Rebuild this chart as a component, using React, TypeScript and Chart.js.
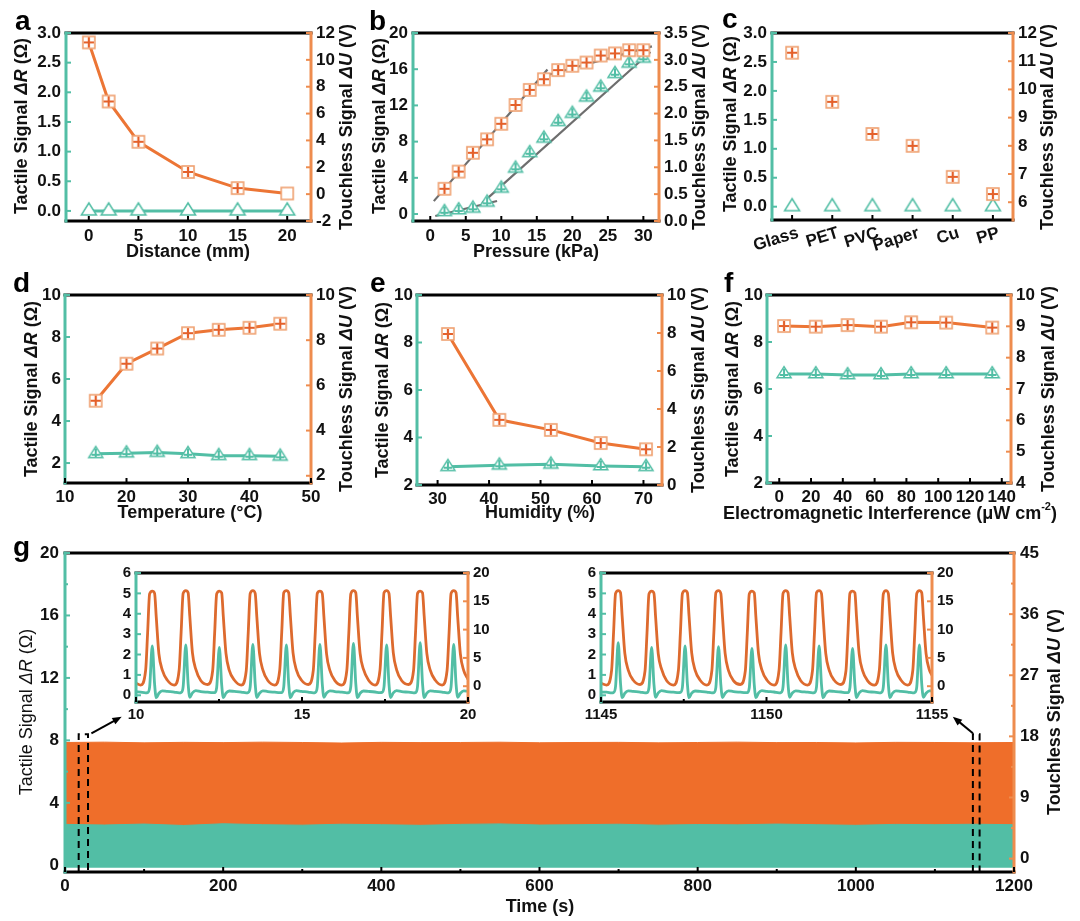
import React, { useEffect, useRef, useMemo } from 'react';
import { Chart, registerables } from 'chart.js';

Chart.register(...registerables);

const FONT = '"Liberation Sans", Arial, Helvetica, sans-serif';
Chart.defaults.font.family = FONT;

const TEAL = '#52BEA5';
const ORANGE = '#EC7535';
const ORANGE_AXIS = '#EE8C4E';
const ORANGE_BAND = '#EF6E2A';
const ORANGE_INSET = '#DD6A2E';
const FIT_GRAY = '#6E6E6E';
const INK = '#111111';

// ---------------- data ----------------
// a
const A_DISTANCE = [0, 2, 5, 10, 15, 20];
const A_TOUCHLESS = [11.3, 6.9, 3.9, 1.65, 0.45, 0.05];
const A_TACTILE = [0, 0, 0, 0, 0, 0];
const A_X_TICKS = [0, 5, 10, 15, 20];
const A_L_TICKS = [0, 0.5, 1, 1.5, 2, 2.5, 3];
const A_R_TICKS = [-2, 0, 2, 4, 6, 8, 10, 12];

// b
const B_PRESSURE = [2, 4, 6, 8, 10, 12, 14, 16, 18, 20, 22, 24, 26, 28, 30];
const B_TOUCHLESS = [0.6, 0.92, 1.27, 1.52, 1.81, 2.16, 2.44, 2.64, 2.81, 2.89, 2.95, 3.08, 3.12, 3.18, 3.18];
const B_TACTILE = [0.25, 0.44, 0.63, 1.29, 2.84, 5.05, 6.77, 8.36, 10.2, 11.1, 12.9, 14.0, 15.5, 16.65, 17.2];
const B_FIT_U_LOW_X = [0.5, 16.5];
const B_FIT_U_LOW_Y = [0.37, 2.82];
const B_FIT_U_HIGH_X = [15.5, 31.2];
const B_FIT_U_HIGH_Y = [2.68, 3.25];
const B_FIT_R_LOW_X = [0.7, 9.4];
const B_FIT_R_LOW_Y = [-0.22, 1.44];
const B_FIT_R_HIGH_X = [7.3, 31];
const B_FIT_R_HIGH_Y = [1.2, 17.9];
const B_X_TICKS = [0, 5, 10, 15, 20, 25, 30];
const B_L_TICKS = [0, 4, 8, 12, 16, 20];
const B_R_TICKS = [0, 0.5, 1, 1.5, 2, 2.5, 3, 3.5];

// c
const C_MATERIALS = ['Glass', 'PET', 'PVC', 'Paper', 'Cu', 'PP'];
const C_TOUCHLESS = [11.3, 9.56, 8.42, 8.0, 6.9, 6.29];
const C_TACTILE = [0, 0, 0, 0, 0, 0];
const C_L_TICKS = [0, 0.5, 1, 1.5, 2, 2.5, 3];
const C_R_TICKS = [6, 7, 8, 9, 10, 11, 12];

// d
const D_TEMPERATURE = [15, 20, 25, 30, 35, 40, 45];
const D_TOUCHLESS = [5.32, 6.96, 7.63, 8.31, 8.46, 8.55, 8.73];
const D_TACTILE = [2.44, 2.47, 2.5, 2.44, 2.35, 2.35, 2.32];
const D_X_TICKS = [10, 20, 30, 40, 50];
const D_L_TICKS = [2, 4, 6, 8, 10];
const D_R_TICKS = [2, 4, 6, 8, 10];

// e
const E_HUMIDITY = [32, 42, 52, 61.7, 70.5];
const E_TOUCHLESS = [7.95, 3.43, 2.9, 2.21, 1.88];
const E_TACTILE = [2.77, 2.83, 2.87, 2.8, 2.77];
const E_X_TICKS = [30, 40, 50, 60, 70];
const E_L_TICKS = [2, 4, 6, 8, 10];
const E_R_TICKS = [0, 2, 4, 6, 8, 10];

// f
const F_EMI = [3, 23, 43, 64, 83, 105, 134];
const F_TOUCHLESS = [9.01, 8.99, 9.04, 8.99, 9.13, 9.12, 8.96];
const F_TACTILE = [6.64, 6.64, 6.6, 6.6, 6.64, 6.64, 6.64];
const F_X_TICKS = [0, 20, 40, 60, 80, 100, 120, 140];
const F_L_TICKS = [2, 4, 6, 8, 10];
const F_R_TICKS = [4, 5, 6, 7, 8, 9, 10];

// g (long-term band: upper envelopes)
const G_TIME = [0, 50, 100, 150, 200, 250, 300, 350, 400, 450, 500, 550, 600, 650, 700, 750, 800, 850, 900, 950, 1000, 1050, 1100, 1150, 1200];
const G_TOUCHLESS_TOP = [17.1, 17.15, 17.05, 17.12, 17.08, 17.15, 17.1, 17.02, 17.12, 17.08, 17.1, 17.14, 17.06, 17.1, 17.12, 17.05, 17.1, 17.15, 17.08, 17.1, 17.04, 17.12, 17.1, 17.06, 17.1];
const G_TACTILE_TOP = [2.62, 2.58, 2.64, 2.55, 2.66, 2.6, 2.57, 2.63, 2.6, 2.56, 2.62, 2.65, 2.58, 2.6, 2.63, 2.57, 2.61, 2.59, 2.64, 2.6, 2.56, 2.62, 2.6, 2.63, 2.6];
const G_TOUCHLESS_FLOOR = 0.2;
const G_TACTILE_FLOOR = -0.15;
const G_X_TICKS = [0, 200, 400, 600, 800, 1000, 1200];
const G_X_MINOR = [100, 300, 500, 700, 900, 1100];
const G_L_TICKS = [0, 4, 8, 12, 16, 20];
const G_L_MINOR = [2, 6, 10, 14, 18];
const G_R_TICKS = [0, 9, 18, 27, 36, 45];
const G_R_MINOR = [4.5, 13.5, 22.5, 31.5, 40.5];
const G_ZOOM_BOXES = [[17.3, 29.1, 8.4], [1148, 1156.5, 8.4]];
const G_ARROWS = [[33.4, 8.45, 71.7, 9.52], [1148, 8.45, 1122.6, 9.52]];

// inset 1 (10-20 s)
const I1_TIME = [10.0,
  10.14, 10.29, 10.35, 10.41, 10.49, 10.56, 10.61, 10.69, 10.79, 10.94,
  11.15, 11.30, 11.36, 11.42, 11.50, 11.57, 11.62, 11.70, 11.80, 11.95,
  12.16, 12.31, 12.37, 12.43, 12.51, 12.58, 12.63, 12.71, 12.81, 12.96,
  13.17, 13.32, 13.38, 13.44, 13.52, 13.59, 13.64, 13.72, 13.82, 13.97,
  14.18, 14.33, 14.39, 14.45, 14.53, 14.60, 14.65, 14.73, 14.83, 14.98,
  15.19, 15.34, 15.40, 15.46, 15.54, 15.61, 15.66, 15.74, 15.84, 15.99,
  16.20, 16.35, 16.41, 16.47, 16.55, 16.62, 16.67, 16.75, 16.85, 17.00,
  17.20, 17.35, 17.41, 17.47, 17.55, 17.62, 17.67, 17.75, 17.85, 18.00,
  18.21, 18.36, 18.42, 18.48, 18.56, 18.63, 18.68, 18.76, 18.86, 19.01,
  19.22, 19.37, 19.43, 19.49, 19.57, 19.64, 19.69, 19.77, 19.87, 20.0];
const I1_TOUCHLESS = [0.5,
  0.2, 2.8, 9.4, 16.3, 16.8, 16.4, 12.2, 5.7, 2.9, 1.1,
  0.2, 2.9, 9.6, 16.4, 16.9, 16.5, 12.4, 5.9, 3.0, 1.0,
  0.3, 2.8, 9.5, 16.3, 16.8, 16.5, 12.3, 5.8, 2.8, 1.1,
  0.2, 2.7, 9.4, 16.4, 16.9, 16.4, 12.2, 5.8, 2.9, 1.0,
  0.2, 2.9, 9.6, 16.5, 16.9, 16.5, 12.4, 5.9, 2.9, 1.1,
  0.3, 2.8, 9.5, 16.4, 16.8, 16.4, 12.3, 5.7, 2.8, 1.0,
  0.2, 2.8, 9.4, 16.3, 16.9, 16.5, 12.2, 5.8, 3.0, 1.1,
  0.2, 2.9, 9.6, 16.5, 16.9, 16.4, 12.3, 5.9, 2.9, 1.0,
  0.3, 2.8, 9.5, 16.4, 16.8, 16.5, 12.4, 5.8, 2.9, 1.1,
  0.2, 2.8, 9.4, 16.4, 16.9, 16.5, 12.2, 5.7, 2.8, 1.2];
const I1_TACTILE = [0.18,
  0.15, 0.12, 0.13, 0.40, 2.42, 0.55, -0.12, 0.10, 0.22, 0.19,
  0.16, 0.12, 0.14, 0.42, 2.47, 0.56, -0.10, 0.12, 0.23, 0.18,
  0.15, 0.13, 0.13, 0.38, 2.35, 0.53, -0.12, 0.11, 0.21, 0.19,
  0.16, 0.12, 0.14, 0.42, 2.50, 0.56, -0.11, 0.10, 0.22, 0.18,
  0.15, 0.13, 0.13, 0.41, 2.47, 0.55, -0.12, 0.12, 0.23, 0.19,
  0.16, 0.12, 0.14, 0.42, 2.50, 0.57, -0.10, 0.11, 0.22, 0.18,
  0.15, 0.12, 0.13, 0.43, 2.55, 0.57, -0.12, 0.10, 0.21, 0.19,
  0.16, 0.13, 0.14, 0.41, 2.47, 0.55, -0.11, 0.12, 0.23, 0.18,
  0.15, 0.12, 0.13, 0.44, 2.58, 0.58, -0.12, 0.11, 0.22, 0.19,
  0.16, 0.12, 0.14, 0.42, 2.50, 0.56, -0.10, 0.10, 0.22, 0.20];

// inset 2 (1145-1155 s)
const I2_TIME = [1145.0,
  1145.17, 1145.32, 1145.38, 1145.44, 1145.52, 1145.59, 1145.64, 1145.72, 1145.82, 1145.97,
  1146.18, 1146.33, 1146.39, 1146.45, 1146.53, 1146.60, 1146.65, 1146.73, 1146.83, 1146.98,
  1147.19, 1147.34, 1147.40, 1147.46, 1147.54, 1147.61, 1147.66, 1147.74, 1147.84, 1147.99,
  1148.20, 1148.35, 1148.41, 1148.47, 1148.55, 1148.62, 1148.67, 1148.75, 1148.85, 1149.00,
  1149.21, 1149.36, 1149.42, 1149.48, 1149.56, 1149.63, 1149.68, 1149.76, 1149.86, 1150.01,
  1150.23, 1150.38, 1150.44, 1150.50, 1150.58, 1150.65, 1150.70, 1150.78, 1150.88, 1151.03,
  1151.24, 1151.39, 1151.45, 1151.51, 1151.59, 1151.66, 1151.71, 1151.79, 1151.89, 1152.04,
  1152.25, 1152.40, 1152.46, 1152.52, 1152.60, 1152.67, 1152.72, 1152.80, 1152.90, 1153.05,
  1153.26, 1153.41, 1153.47, 1153.53, 1153.61, 1153.68, 1153.73, 1153.81, 1153.91, 1154.06,
  1154.27, 1154.42, 1154.48, 1154.54, 1154.62, 1154.69, 1154.74, 1154.82, 1154.92, 1155.0];
const I2_TOUCHLESS = [0.5,
  0.2, 2.8, 9.5, 16.4, 16.9, 16.5, 12.3, 5.8, 2.9, 1.1,
  0.3, 2.7, 9.4, 16.3, 16.8, 16.4, 12.2, 5.7, 3.0, 1.0,
  0.2, 2.9, 9.6, 16.4, 16.9, 16.5, 12.4, 5.9, 2.9, 1.1,
  0.2, 2.8, 9.5, 16.5, 16.9, 16.4, 12.3, 5.8, 2.8, 1.0,
  0.3, 2.7, 9.4, 16.3, 16.8, 16.5, 12.2, 5.7, 2.9, 1.1,
  0.2, 2.9, 9.6, 16.4, 16.9, 16.5, 12.4, 5.9, 3.0, 1.0,
  0.2, 2.8, 9.5, 16.5, 16.9, 16.4, 12.3, 5.8, 2.9, 1.1,
  0.3, 2.7, 9.4, 16.4, 16.8, 16.5, 12.2, 5.7, 2.8, 1.0,
  0.2, 2.9, 9.6, 16.3, 16.9, 16.4, 12.4, 5.9, 2.9, 1.1,
  0.2, 2.8, 9.5, 16.4, 16.9, 16.5, 12.3, 5.8, 2.9, 1.9];
const I2_TACTILE = [0.15,
  0.15, 0.12, 0.14, 0.44, 2.58, 0.58, -0.12, 0.10, 0.22, 0.19,
  0.16, 0.12, 0.13, 0.38, 2.35, 0.53, -0.10, 0.12, 0.23, 0.18,
  0.15, 0.13, 0.14, 0.40, 2.42, 0.55, -0.12, 0.11, 0.21, 0.19,
  0.16, 0.12, 0.13, 0.39, 2.38, 0.54, -0.11, 0.10, 0.22, 0.18,
  0.15, 0.13, 0.13, 0.37, 2.30, 0.52, -0.12, 0.12, 0.23, 0.19,
  0.16, 0.12, 0.14, 0.42, 2.47, 0.56, -0.10, 0.11, 0.22, 0.18,
  0.15, 0.12, 0.13, 0.40, 2.42, 0.55, -0.12, 0.10, 0.21, 0.19,
  0.16, 0.13, 0.13, 0.37, 2.30, 0.52, -0.11, 0.12, 0.23, 0.18,
  0.15, 0.12, 0.14, 0.42, 2.47, 0.56, -0.12, 0.11, 0.22, 0.19,
  0.16, 0.12, 0.14, 0.42, 2.47, 0.56, -0.10, 0.10, 0.22, 0.22];
const INSET_L_TICKS = [0, 1, 2, 3, 4, 5, 6];
const INSET_R_TICKS = [0, 5, 10, 15, 20];
const I1_X_TICKS = [10, 15, 20];
const I1_X_MINOR = [12.5, 17.5];
const I2_X_TICKS = [1145, 1150, 1155];
const I2_X_MINOR = [1147.5, 1152.5];

// ---------------- helpers ----------------
type Seg = { t: string; i?: boolean; sup?: boolean };
type Title = { segs: Seg[]; x: number; y: number; weight?: string };
type Deco = {
  letter?: { t: string; x: number; y: number };
  left?: Title;
  right?: Title;
  bottom?: Title;
  titleSize?: number;
  minorX?: number[];
  minorL?: number[];
  minorR?: number[];
  extra?: (c: any) => void;
};
type PanelSpec = {
  box: [number, number, number, number];
  plot: [number, number, number, number];
  xAxis: any;
  yl: any;
  yr: any;
  datasets: any[];
  deco: Deco;
};

const TACTILE_SEGS: Seg[] = [{ t: 'Tactile Signal ' }, { t: 'ΔR', i: true }, { t: ' (Ω)' }];
const TOUCHLESS_SEGS: Seg[] = [{ t: 'Touchless Signal ' }, { t: 'ΔU', i: true }, { t: ' (V)' }];

const f0 = (v: number) => String(Math.round(v));
const f1 = (v: number) => v.toFixed(1);

function line(ctx: CanvasRenderingContext2D, color: string, x1: number, y1: number, x2: number, y2: number) {
  ctx.strokeStyle = color;
  ctx.beginPath();
  ctx.moveTo(x1, y1);
  ctx.lineTo(x2, y2);
  ctx.stroke();
}

function drawRich(ctx: CanvasRenderingContext2D, segs: Seg[], cx: number, cy: number, rot: number, size: number, weight: string) {
  const font = (s: Seg) => `${s.i ? 'italic ' : ''}${weight} ${s.sup ? Math.round(size * 0.62) : size}px ${FONT}`;
  let total = 0;
  const widths = segs.map((s) => {
    ctx.font = font(s);
    const w = ctx.measureText(s.t).width;
    total += w;
    return w;
  });
  ctx.save();
  ctx.translate(cx, cy);
  ctx.rotate(rot);
  ctx.textBaseline = 'middle';
  ctx.textAlign = 'left';
  ctx.fillStyle = INK;
  let x = -total / 2;
  segs.forEach((s, k) => {
    ctx.font = font(s);
    ctx.fillText(s.t, x, s.sup ? -size * 0.38 : 0);
    x += widths[k];
  });
  ctx.restore();
}

function arrow(ctx: CanvasRenderingContext2D, x1: number, y1: number, x2: number, y2: number) {
  const a = Math.atan2(y2 - y1, x2 - x1);
  const hl = 10;
  ctx.lineWidth = 2;
  line(ctx, '#000', x1, y1, x2 - Math.cos(a) * hl * 0.7, y2 - Math.sin(a) * hl * 0.7);
  ctx.fillStyle = '#000';
  ctx.beginPath();
  ctx.moveTo(x2, y2);
  ctx.lineTo(x2 - hl * Math.cos(a - 0.38), y2 - hl * Math.sin(a - 0.38));
  ctx.lineTo(x2 - hl * Math.cos(a + 0.38), y2 - hl * Math.sin(a + 0.38));
  ctx.closePath();
  ctx.fill();
}

function squareMarker(cross: boolean) {
  const c = document.createElement('canvas');
  c.width = 16;
  c.height = 16;
  const g = c.getContext('2d')!;
  g.fillStyle = '#fff';
  g.fillRect(2, 2, 12, 12);
  g.strokeStyle = '#EFA070';
  g.lineWidth = 1.6;
  g.strokeRect(2, 2, 12, 12);
  if (cross) {
    g.strokeStyle = '#E4602A';
    g.lineWidth = 2.2;
    g.beginPath();
    g.moveTo(8, 3);
    g.lineTo(8, 13);
    g.moveTo(3, 8);
    g.lineTo(13, 8);
    g.stroke();
  }
  return c;
}

function triMarker(cross: boolean, hw: number, h: number) {
  const c = document.createElement('canvas');
  c.width = 22;
  c.height = 22;
  const g = c.getContext('2d')!;
  const cx = 11, cy = 11;
  const apex = cy - (2 * h) / 3, base = cy + h / 3;
  g.beginPath();
  g.moveTo(cx, apex);
  g.lineTo(cx + hw, base);
  g.lineTo(cx - hw, base);
  g.closePath();
  g.fillStyle = '#fff';
  g.fill();
  g.strokeStyle = TEAL;
  g.lineWidth = 1.5;
  g.stroke();
  if (cross) {
    g.lineWidth = 2;
    g.beginPath();
    g.moveTo(cx, apex + 2);
    g.lineTo(cx, base);
    g.moveTo(cx - hw * 0.6, cy + 1);
    g.lineTo(cx + hw * 0.6, cy + 1);
    g.stroke();
  }
  return c;
}

function lin(min: number, max: number, ticks: number[], fmt: (v: number) => string, size: number, pad: number) {
  return {
    type: 'linear',
    min,
    max,
    grid: { display: false, drawTicks: false },
    border: { display: false },
    ticks: {
      padding: pad,
      color: INK,
      autoSkip: false,
      maxRotation: 0,
      minRotation: 0,
      font: { family: FONT, size, weight: 'bold' },
      callback: (v: any) => fmt(Number(v)),
    },
    afterBuildTicks: (s: any) => {
      s.ticks = ticks.map((v) => ({ value: v }));
    },
  };
}

function pts(xs: any[], ys: number[], axis: string, color: string, style: any, showLine: boolean, order = 0) {
  return {
    type: 'line',
    data: xs.map((x, i) => ({ x, y: ys[i] })),
    yAxisID: axis,
    borderColor: color,
    backgroundColor: color,
    borderWidth: 3,
    showLine,
    pointStyle: style,
    pointRadius: 7,
    order,
  };
}

function fitLine(xs: number[], ys: number[], axis: string) {
  return {
    type: 'line',
    data: xs.map((x, i) => ({ x, y: ys[i] })),
    yAxisID: axis,
    borderColor: FIT_GRAY,
    borderWidth: 2.2,
    pointRadius: 0,
    order: 5,
  };
}

function trace(xs: number[], ys: number[], axis: string, color: string, width: number, order: number) {
  return {
    type: 'line',
    data: xs.map((x, i) => ({ x, y: ys[i] })),
    yAxisID: axis,
    borderColor: color,
    borderWidth: width,
    pointRadius: 0,
    cubicInterpolationMode: 'monotone',
    order,
  };
}

function band(xs: number[], ys: number[], axis: string, color: string, floor: number, order: number) {
  return {
    type: 'line',
    data: xs.map((x, i) => ({ x, y: ys[i] })),
    yAxisID: axis,
    borderColor: color,
    backgroundColor: color,
    borderWidth: 1,
    pointRadius: 0,
    fill: { value: floor },
    order,
  };
}

function decoPlugin(spec: PanelSpec) {
  const ox = spec.box[0];
  const oy = spec.box[1];
  const d = spec.deco;
  return {
    id: 'deco',
    afterDraw(chart: any) {
      const ctx: CanvasRenderingContext2D = chart.ctx;
      const { left, right, top, bottom } = chart.chartArea;
      ctx.save();
      ctx.lineCap = 'butt';
      ctx.lineWidth = 3;
      line(ctx, '#000', left - 1.5, top, right + 1.5, top);
      line(ctx, '#000', left - 1.5, bottom, right + 1.5, bottom);
      line(ctx, TEAL, left, top - 1.5, left, bottom + 1.5);
      line(ctx, ORANGE_AXIS, right, top - 1.5, right, bottom + 1.5);
      const xs = chart.scales.x, yl = chart.scales.y, yr = chart.scales.y1;
      ctx.lineWidth = 2;
      const L = 5, Lm = 3;
      xs.ticks.forEach((_: any, i: number) => {
        const p = xs.getPixelForTick(i);
        line(ctx, '#000', p, bottom, p, bottom - L);
      });
      yl.ticks.forEach((_: any, i: number) => {
        const p = yl.getPixelForTick(i);
        line(ctx, TEAL, left, p, left + L, p);
      });
      yr.ticks.forEach((_: any, i: number) => {
        const p = yr.getPixelForTick(i);
        line(ctx, ORANGE_AXIS, right, p, right - L, p);
      });
      (d.minorX || []).forEach((v) => {
        const p = xs.getPixelForValue(v);
        line(ctx, '#000', p, bottom, p, bottom - Lm);
      });
      (d.minorL || []).forEach((v) => {
        const p = yl.getPixelForValue(v);
        line(ctx, TEAL, left, p, left + Lm, p);
      });
      (d.minorR || []).forEach((v) => {
        const p = yr.getPixelForValue(v);
        line(ctx, ORANGE_AXIS, right, p, right - Lm, p);
      });
      const ts = d.titleSize || 18;
      if (d.left) drawRich(ctx, d.left.segs, d.left.x - ox, d.left.y - oy, -Math.PI / 2, ts, d.left.weight || 'bold');
      if (d.right) drawRich(ctx, d.right.segs, d.right.x - ox, d.right.y - oy, -Math.PI / 2, ts, d.right.weight || 'bold');
      if (d.bottom) drawRich(ctx, d.bottom.segs, d.bottom.x - ox, d.bottom.y - oy, 0, ts, d.bottom.weight || 'bold');
      if (d.letter) {
        ctx.font = `bold 28px ${FONT}`;
        ctx.fillStyle = '#000';
        ctx.textAlign = 'left';
        ctx.textBaseline = 'alphabetic';
        ctx.fillText(d.letter.t, d.letter.x - ox, d.letter.y - oy);
      }
      if (d.extra) d.extra(chart);
      ctx.restore();
    },
  };
}

function makeConfig(p: PanelSpec): any {
  const [bx, by, bw, bh] = p.box;
  const [pl, pt, pr, pb] = p.plot;
  const x = {
    ...p.xAxis,
    position: 'bottom',
    afterFit: (s: any) => {
      s.height = by + bh - pb;
      s.paddingLeft = 0;
      s.paddingRight = 0;
    },
  };
  const y = {
    ...p.yl,
    position: 'left',
    afterFit: (s: any) => {
      s.width = pl - bx;
      s.paddingTop = 0;
      s.paddingBottom = 0;
    },
  };
  const y1 = {
    ...p.yr,
    position: 'right',
    afterFit: (s: any) => {
      s.width = bx + bw - pr;
      s.paddingTop = 0;
      s.paddingBottom = 0;
    },
  };
  return {
    type: 'line',
    data: { datasets: p.datasets },
    options: {
      animation: false,
      responsive: false,
      devicePixelRatio: 1,
      events: [],
      layout: { padding: { top: pt - by, left: 0, right: 0, bottom: 0 } },
      plugins: { legend: { display: false }, tooltip: { enabled: false } },
      scales: { x, y, y1 },
    },
    plugins: [decoPlugin(p)],
  };
}

function buildSpecs(): PanelSpec[] {
  const sqCross = squareMarker(true);
  const sqOpen = squareMarker(false);
  const triOpen = triMarker(false, 7.5, 12);
  const triCross = triMarker(true, 7, 11);

  const a: PanelSpec = {
    box: [0, 0, 360, 265],
    plot: [66, 33, 311, 221],
    xAxis: lin(-2.3, 22.4, A_X_TICKS, f0, 17, 5),
    yl: lin(-0.17, 3.0, A_L_TICKS, f1, 17, 5),
    yr: lin(-2, 12, A_R_TICKS, f0, 17, 5),
    datasets: [
      pts(A_DISTANCE, A_TOUCHLESS, 'y1', ORANGE, A_TOUCHLESS.map((_, i) => (i === A_TOUCHLESS.length - 1 ? sqOpen : sqCross)), true),
      pts(A_DISTANCE, A_TACTILE, 'y', TEAL, triOpen, true),
    ],
    deco: {
      letter: { t: 'a', x: 15, y: 30 },
      left: { segs: TACTILE_SEGS, x: 22, y: 126 },
      right: { segs: TOUCHLESS_SEGS, x: 347, y: 127 },
      bottom: { segs: [{ t: 'Distance (mm)' }], x: 188, y: 252 },
    },
  };

  const b: PanelSpec = {
    box: [360, 0, 360, 265],
    plot: [413, 33, 659, 221],
    xAxis: lin(-2.43, 32.2, B_X_TICKS, f0, 17, 5),
    yl: lin(-0.77, 20, B_L_TICKS, f0, 17, 5),
    yr: lin(0, 3.5, B_R_TICKS, f1, 17, 5),
    datasets: [
      pts(B_PRESSURE, B_TOUCHLESS, 'y1', ORANGE, sqCross, false),
      pts(B_PRESSURE, B_TACTILE, 'y', TEAL, triCross, false),
      fitLine(B_FIT_U_LOW_X, B_FIT_U_LOW_Y, 'y1'),
      fitLine(B_FIT_U_HIGH_X, B_FIT_U_HIGH_Y, 'y1'),
      fitLine(B_FIT_R_LOW_X, B_FIT_R_LOW_Y, 'y'),
      fitLine(B_FIT_R_HIGH_X, B_FIT_R_HIGH_Y, 'y'),
    ],
    deco: {
      letter: { t: 'b', x: 369, y: 30 },
      left: { segs: TACTILE_SEGS, x: 380, y: 126 },
      right: { segs: TOUCHLESS_SEGS, x: 700, y: 127 },
      bottom: { segs: [{ t: 'Pressure (kPa)' }], x: 536, y: 252 },
    },
  };

  const c: PanelSpec = {
    box: [720, 0, 360, 265],
    plot: [772, 33, 1013, 220],
    xAxis: {
      type: 'category',
      labels: C_MATERIALS,
      offset: true,
      grid: { display: false, drawTicks: false },
      border: { display: false },
      ticks: {
        padding: 3,
        labelOffset: 6,
        color: INK,
        autoSkip: false,
        minRotation: 17,
        maxRotation: 17,
        font: { family: FONT, size: 17, weight: 'bold' },
      },
    },
    yl: lin(-0.23, 3.0, C_L_TICKS, f1, 17, 5),
    yr: lin(5.37, 12, C_R_TICKS, f0, 17, 5),
    datasets: [
      pts(C_MATERIALS, C_TOUCHLESS, 'y1', ORANGE, sqCross, false),
      pts(C_MATERIALS, C_TACTILE, 'y', TEAL, triOpen, false),
    ],
    deco: {
      letter: { t: 'c', x: 722, y: 28 },
      left: { segs: TACTILE_SEGS, x: 731, y: 124 },
      right: { segs: TOUCHLESS_SEGS, x: 1048, y: 127 },
    },
  };

  const dP: PanelSpec = {
    box: [0, 265, 360, 265],
    plot: [65, 295, 311, 483],
    xAxis: lin(10, 50, D_X_TICKS, f0, 17, 4),
    yl: lin(1.05, 10, D_L_TICKS, f0, 17, 4),
    yr: lin(1.68, 10, D_R_TICKS, f0, 17, 5),
    datasets: [
      pts(D_TEMPERATURE, D_TOUCHLESS, 'y1', ORANGE, sqCross, true),
      pts(D_TEMPERATURE, D_TACTILE, 'y', TEAL, triCross, true),
    ],
    deco: {
      letter: { t: 'd', x: 13, y: 292 },
      left: { segs: TACTILE_SEGS, x: 32, y: 389 },
      right: { segs: TOUCHLESS_SEGS, x: 347, y: 389 },
      bottom: { segs: [{ t: 'Temperature (°C)' }], x: 190, y: 513 },
    },
  };

  const e: PanelSpec = {
    box: [360, 265, 360, 265],
    plot: [417, 295, 662, 485],
    xAxis: lin(26, 73.6, E_X_TICKS, f0, 17, 4),
    yl: lin(2, 10, E_L_TICKS, f0, 17, 4),
    yr: lin(0, 10, E_R_TICKS, f0, 17, 5),
    datasets: [
      pts(E_HUMIDITY, E_TOUCHLESS, 'y1', ORANGE, sqCross, true),
      pts(E_HUMIDITY, E_TACTILE, 'y', TEAL, triCross, true),
    ],
    deco: {
      letter: { t: 'e', x: 370, y: 292 },
      left: { segs: TACTILE_SEGS, x: 383, y: 390 },
      right: { segs: TOUCHLESS_SEGS, x: 699, y: 390 },
      bottom: { segs: [{ t: 'Humidity (%)' }], x: 540, y: 513 },
    },
  };

  const f: PanelSpec = {
    box: [720, 265, 360, 265],
    plot: [767, 295, 1011, 483],
    xAxis: lin(-7.7, 145.8, F_X_TICKS, f0, 17, 4),
    yl: lin(2, 10, F_L_TICKS, f0, 17, 4),
    yr: lin(4, 10, F_R_TICKS, f0, 17, 5),
    datasets: [
      pts(F_EMI, F_TOUCHLESS, 'y1', ORANGE, sqCross, true),
      pts(F_EMI, F_TACTILE, 'y', TEAL, triCross, true),
    ],
    deco: {
      letter: { t: 'f', x: 724, y: 292 },
      left: { segs: TACTILE_SEGS, x: 733, y: 389 },
      right: { segs: TOUCHLESS_SEGS, x: 1049, y: 389 },
      bottom: { segs: [{ t: 'Electromagnetic Interference (μW cm' }, { t: '-2', sup: true }, { t: ')' }], x: 890, y: 514 },
    },
  };

  const g: PanelSpec = {
    box: [0, 530, 1080, 391],
    plot: [65, 553, 1014, 872],
    xAxis: lin(0, 1200, G_X_TICKS, f0, 17, 4),
    yl: lin(-0.43, 20, G_L_TICKS, f0, 17, 6),
    yr: lin(-1.97, 45, G_R_TICKS, f0, 17, 6),
    datasets: [
      band(G_TIME, G_TACTILE_TOP, 'y', TEAL, G_TACTILE_FLOOR, 0),
      band(G_TIME, G_TOUCHLESS_TOP, 'y1', ORANGE_BAND, G_TOUCHLESS_FLOOR, 1),
    ],
    deco: {
      letter: { t: 'g', x: 13, y: 556 },
      left: { segs: TACTILE_SEGS, x: 27, y: 712, weight: 'normal' },
      right: { segs: TOUCHLESS_SEGS, x: 1055, y: 712 },
      bottom: { segs: [{ t: 'Time (s)' }], x: 540, y: 907 },
      minorX: G_X_MINOR,
      minorL: G_L_MINOR,
      minorR: G_R_MINOR,
      extra: (chart: any) => {
        const ctx: CanvasRenderingContext2D = chart.ctx;
        const xs = chart.scales.x, y = chart.scales.y;
        const bottom = chart.chartArea.bottom;
        ctx.save();
        ctx.lineWidth = 2;
        ctx.strokeStyle = '#000';
        ctx.setLineDash([7, 5]);
        G_ZOOM_BOXES.forEach(([t1, t2, top]) => {
          const X1 = xs.getPixelForValue(t1), X2 = xs.getPixelForValue(t2), Y = y.getPixelForValue(top);
          ctx.beginPath();
          ctx.moveTo(X1, bottom);
          ctx.lineTo(X1, Y);
          ctx.lineTo(X2, Y);
          ctx.lineTo(X2, bottom);
          ctx.stroke();
        });
        ctx.setLineDash([]);
        G_ARROWS.forEach(([t1, v1, t2, v2]) => {
          arrow(ctx, xs.getPixelForValue(t1), y.getPixelForValue(v1), xs.getPixelForValue(t2), y.getPixelForValue(v2));
        });
        ctx.restore();
      },
    },
  };

  const i1: PanelSpec = {
    box: [100, 560, 400, 170],
    plot: [136, 573, 468, 702],
    xAxis: lin(10, 20, I1_X_TICKS, f0, 15, 4),
    yl: lin(-0.33, 6, INSET_L_TICKS, f0, 15, 5),
    yr: lin(-2.79, 20, INSET_R_TICKS, f0, 15, 5),
    datasets: [
      trace(I1_TIME, I1_TACTILE, 'y', TEAL, 2.8, 0),
      trace(I1_TIME, I1_TOUCHLESS, 'y1', ORANGE_INSET, 2.8, 1),
    ],
    deco: { minorX: I1_X_MINOR },
  };

  const i2: PanelSpec = {
    box: [560, 560, 420, 170],
    plot: [601, 573, 932, 702],
    xAxis: lin(1145, 1155, I2_X_TICKS, f0, 15, 4),
    yl: lin(-0.33, 6, INSET_L_TICKS, f0, 15, 5),
    yr: lin(-2.79, 20, INSET_R_TICKS, f0, 15, 5),
    datasets: [
      trace(I2_TIME, I2_TACTILE, 'y', TEAL, 2.8, 0),
      trace(I2_TIME, I2_TOUCHLESS, 'y1', ORANGE_INSET, 2.8, 1),
    ],
    deco: { minorX: I2_X_MINOR },
  };

  return [a, b, c, dP, e, f, g, i1, i2];
}

function ChartCanvas({ spec }: { spec: PanelSpec }) {
  const ref = useRef<HTMLCanvasElement | null>(null);
  useEffect(() => {
    if (!ref.current) return;
    const chart = new Chart(ref.current, makeConfig(spec));
    return () => chart.destroy();
  }, [spec]);
  const [x, y, w, h] = spec.box;
  return (
    <canvas
      ref={ref}
      width={w}
      height={h}
      style={{ position: 'absolute', left: x, top: y, width: w, height: h }}
    />
  );
}

export default function App() {
  const specs = useMemo(() => buildSpecs(), []);
  return (
    <div style={{ position: 'absolute', left: 0, top: 0, width: 1080, height: 921, background: '#ffffff', overflow: 'hidden' }}>
      {specs.map((s, i) => (
        <ChartCanvas key={i} spec={s} />
      ))}
    </div>
  );
}
